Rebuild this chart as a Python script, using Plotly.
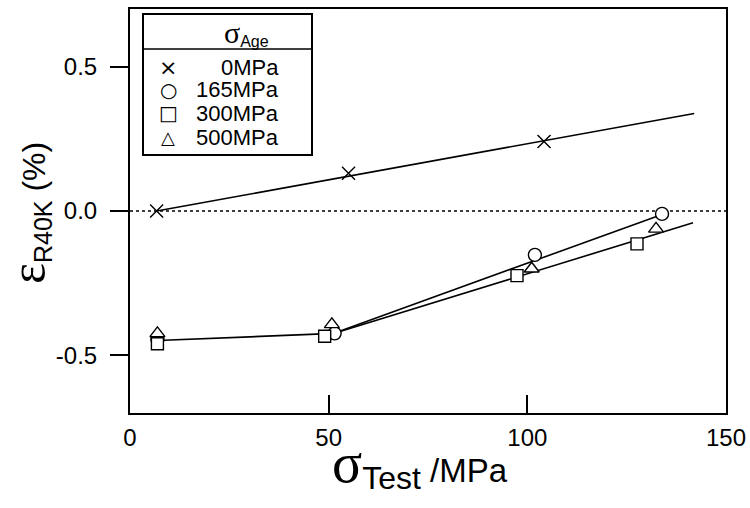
import plotly.graph_objects as go

# ---- data ----
x_0 = [6.7, 55.0, 104.2]
y_0 = [0.0, 0.131, 0.241]
x_165 = [6.9, 51.5, 101.9, 133.9]
y_165 = [-0.445, -0.424, -0.152, -0.010]
x_300 = [6.9, 49.0, 97.4, 127.6]
y_300 = [-0.460, -0.434, -0.224, -0.114]
x_500 = [6.9, 50.8, 101.1, 132.4]
y_500 = [-0.424, -0.393, -0.200, -0.062]

# guide lines drawn in the reference
fit0_x = [6.7, 142.0]
fit0_y = [0.0, 0.338]
low_x = [6.9, 50.0]
low_y = [-0.449, -0.425]
upper_x = [51.0, 133.9]
upper_y = [-0.425, -0.012]
lower_x = [51.0, 141.7]
lower_y = [-0.425, -0.041]
zero_x = [0, 150]
zero_y = [0, 0]

x_ticks = [0, 50, 100, 150]
y_ticks = [-0.5, 0.0, 0.5]
y_ticktext = ["-0.5", "0.0", "0.5"]

legend_names = ["0MPa", "165MPa", "300MPa", "500MPa"]
legend_glyphs = ["\u00d7", "\u25cb", "\u25a1", "\u25b3"]

FONT = "Liberation Sans, Arial, sans-serif"
SERIF = "Liberation Serif, Times New Roman, serif"

W, H = 750, 508
ML, MR, MT, MB = 130, 24, 9, 95
PW, PH = W - ML - MR, H - MT - MB


def px(x):
    return (x - ML) / PW


def py(y):
    return (H - MB - y) / PH


fig = go.Figure()

line_style = dict(color="black", width=1.6)
fig.add_trace(go.Scatter(x=zero_x, y=zero_y, mode="lines",
                         line=dict(color="black", width=1.6, dash="dot"),
                         showlegend=False, hoverinfo="skip"))
for lx, ly in [(fit0_x, fit0_y), (low_x, low_y), (upper_x, upper_y), (lower_x, lower_y)]:
    fig.add_trace(go.Scatter(x=lx, y=ly, mode="lines", line=line_style,
                             showlegend=False, hoverinfo="skip"))

mk_line = dict(color="black", width=1.4)
fig.add_trace(go.Scatter(x=x_0, y=y_0, mode="markers", name=legend_names[0], showlegend=False,
                         marker=dict(symbol="x-thin", size=13, line=mk_line, color="black")))
fig.add_trace(go.Scatter(x=x_165, y=y_165, mode="markers", name=legend_names[1], showlegend=False,
                         marker=dict(symbol="circle", size=13, color="white", line=mk_line)))
fig.add_trace(go.Scatter(x=x_300, y=y_300, mode="markers", name=legend_names[2], showlegend=False,
                         marker=dict(symbol="square", size=12, color="white", line=mk_line)))
fig.add_trace(go.Scatter(x=x_500, y=y_500, mode="markers", name=legend_names[3], showlegend=False,
                         marker=dict(symbol="triangle-up", size=13, color="white", line=mk_line)))

annotations = []
shapes = []

# manual legend box
shapes.append(dict(type="rect", xref="paper", yref="paper",
                   x0=px(143), x1=px(312), y0=py(155), y1=py(14),
                   line=dict(color="black", width=2), fillcolor="white", layer="above"))
shapes.append(dict(type="line", xref="paper", yref="paper",
                   x0=px(143), x1=px(312), y0=py(49), y1=py(49),
                   line=dict(color="black", width=1.5), layer="above"))
annotations.append(dict(xref="paper", yref="paper", x=px(246), y=py(33),
                        xanchor="center", yanchor="middle", showarrow=False,
                        text='<span style="font-family:Liberation Serif;font-size:30px">σ</span>'
                             '<sub><span style="font-size:16px">Age</span></sub>',
                        font=dict(family=FONT, size=20, color="black")))
row_y = [67, 90, 113, 137]
glyph_size = [22, 20, 20, 18]
for name, glyph, ry, gs in zip(legend_names, legend_glyphs, row_y, glyph_size):
    annotations.append(dict(xref="paper", yref="paper", x=px(168), y=py(ry),
                            xanchor="center", yanchor="middle", showarrow=False,
                            text=glyph, font=dict(family="DejaVu Sans", size=gs, color="black")))
    annotations.append(dict(xref="paper", yref="paper", x=px(281), y=py(ry),
                            xanchor="right", yanchor="middle", showarrow=False,
                            text=name, font=dict(family=FONT, size=22, color="black")))

# axis titles
annotations.append(dict(xref="paper", yref="paper", x=px(420), y=py(464),
                        xanchor="center", yanchor="middle", showarrow=False,
                        text='<span style="font-family:Liberation Serif;font-size:56px">σ</span>'
                             '<sub><span style="font-size:32px">Test</span></sub> /MPa',
                        font=dict(family=FONT, size=33, color="black")))
annotations.append(dict(xref="paper", yref="paper", x=px(28), y=py(213),
                        xanchor="center", yanchor="middle", showarrow=False, textangle=-90,
                        text='<span style="font-family:Liberation Serif;font-size:50px">ε</span>'
                             '<sub><span style="font-size:25px">R40K</span></sub> (%)',
                        font=dict(family=FONT, size=32, color="black")))

fig.update_layout(
    width=W, height=H,
    margin=dict(l=ML, r=MR, t=MT, b=MB, autoexpand=False),
    paper_bgcolor="white", plot_bgcolor="white",
    font=dict(family=FONT, color="black", size=22),
    showlegend=False,
    shapes=shapes,
    annotations=annotations,
    xaxis=dict(
        range=[0, 150], tickvals=x_ticks, ticks="inside", ticklen=18, tickwidth=2,
        tickcolor="black", showline=True, linecolor="black", linewidth=2, mirror=True,
        showgrid=False, zeroline=False, tickfont=dict(size=24), ticklabelstandoff=2,
        automargin=False,
    ),
    yaxis=dict(
        range=[-0.7, 0.7], tickvals=y_ticks, ticktext=y_ticktext, ticks="outside",
        ticklen=18, tickwidth=2, tickcolor="black", showline=True, linecolor="black",
        linewidth=2, mirror=True, showgrid=False, zeroline=False,
        tickfont=dict(size=24), ticklabelstandoff=8, automargin=False,
    ),
)

fig.write_html("out.html", config={"displayModeBar": False},
               post_script="document.body.style.margin='0';document.body.style.padding='0';")
